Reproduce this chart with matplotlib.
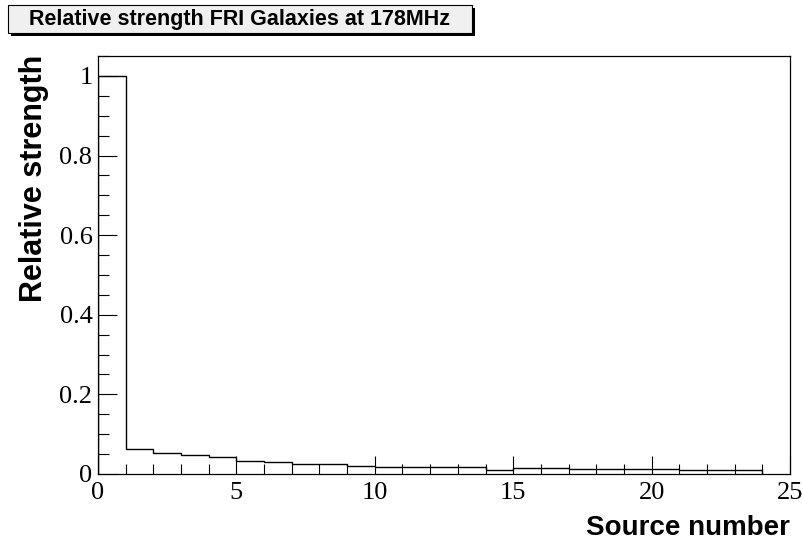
import matplotlib.pyplot as plt
from matplotlib.patches import Rectangle
from matplotlib.ticker import MultipleLocator

# bin edges and relative strengths (one bin per source)
edges = list(range(0, 25))
strength = [1.0, 0.063, 0.052, 0.048, 0.043, 0.033, 0.030, 0.025, 0.025,
            0.020, 0.018, 0.017, 0.017, 0.017, 0.010, 0.015, 0.014, 0.0125,
            0.0125, 0.0125, 0.0125, 0.010, 0.010, 0.010]
xticks = [0, 5, 10, 15, 20, 25]
yticks = [0, 0.2, 0.4, 0.6, 0.8, 1.0]
ytick_labels = ['0', '0.2', '0.4', '0.6', '0.8', '1']
title = 'Relative strength FRI Galaxies at 178MHz'
xlabel = 'Source number'
ylabel = 'Relative strength'

fig = plt.figure(figsize=(8.04, 5.48), dpi=100)
W, H = 804, 548
ax = fig.add_axes([98 / W, 1 - 474 / H, (790 - 98) / W, (474 - 56) / H])

ax.stairs(strength, edges, color='black', linewidth=1.0, baseline=0)
ax.set_xlim(0, 25)
ax.set_ylim(0, 1.05)

ax.xaxis.set_minor_locator(MultipleLocator(1))
ax.yaxis.set_minor_locator(MultipleLocator(0.05))
ax.tick_params(which='both', direction='in', top=False, right=False,
               width=0.8, color='black')
ax.tick_params(axis='x', which='major', length=13, pad=6)
ax.tick_params(axis='x', which='minor', length=7)
ax.tick_params(axis='y', which='major', length=14, pad=4)
ax.tick_params(axis='y', which='minor', length=8)

ax.set_yticks(yticks)
ax.set_yticklabels(ytick_labels, fontfamily='Liberation Serif', fontsize=19)
ax.set_xticks(xticks)
ax.set_xticklabels([str(v) for v in xticks],
                   fontfamily='Liberation Serif', fontsize=19)

for s in ax.spines.values():
    s.set_linewidth(0.9)

fig.text(790 / W, 1 - 528 / H, xlabel, ha='right', va='center',
         fontfamily='Liberation Sans', fontweight='bold', fontsize=20)
fig.text(34 / W, 1 - 55 / H, ylabel, ha='center', va='top', rotation=90,
         fontfamily='Liberation Sans', fontweight='bold', fontsize=22)

# title box with shadow
shadow = Rectangle((11 / W, 1 - 36 / H), (472 - 8) / W, (33 - 5) / H,
                   transform=fig.transFigure, facecolor='black', edgecolor='none')
box = Rectangle((8 / W, 1 - 33 / H), (472 - 8) / W, (33 - 5) / H,
                transform=fig.transFigure, facecolor='#f0f0f0',
                edgecolor='black', linewidth=0.8)
fig.patches.extend([shadow, box])
fig.text(240 / W, 1 - 19 / H, title, ha='center', va='center',
         fontfamily='Liberation Sans', fontweight='bold', fontsize=15.5)

fig.savefig('out.png', dpi=100)
